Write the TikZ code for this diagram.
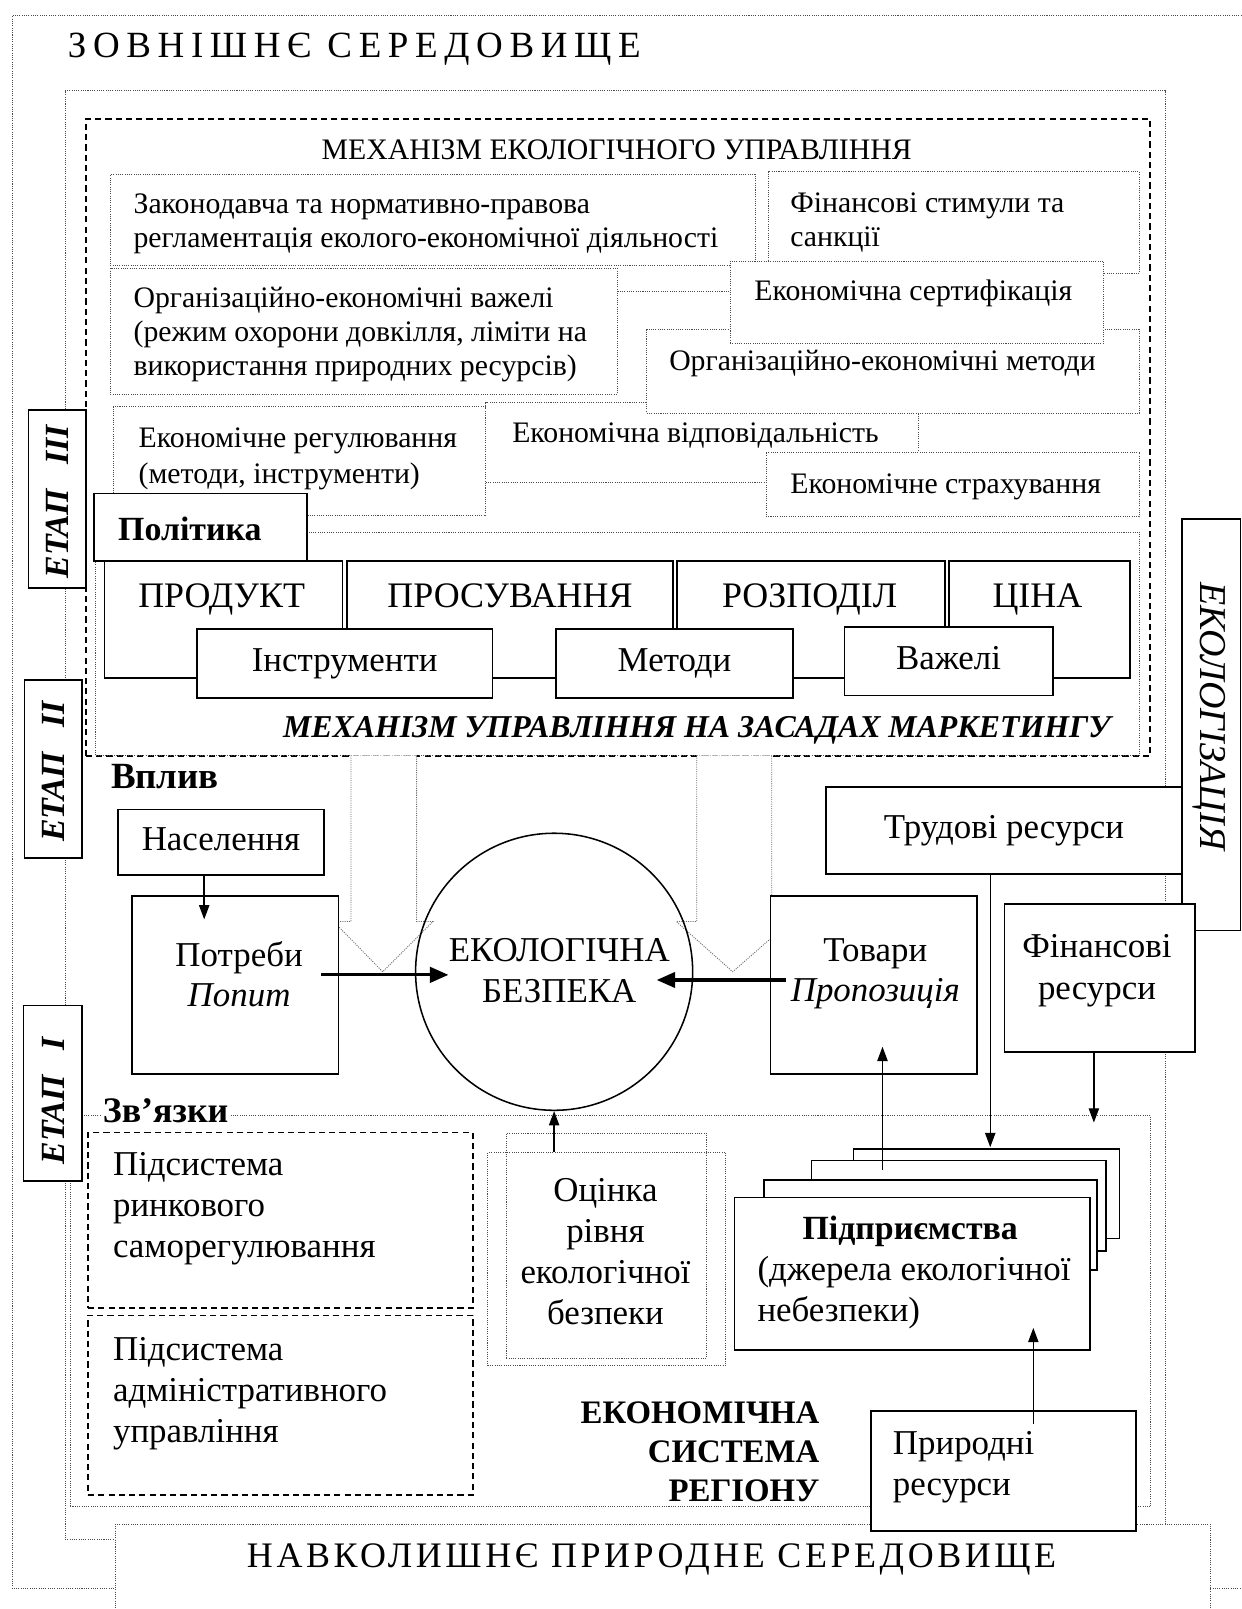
\documentclass[tikz,border=0pt]{standalone}
\usepackage{fontspec}
\setmainfont{Liberation Serif}
\usetikzlibrary{arrows.meta}
\newcommand\fsz[2]{\fontsize{#1}{#2}\selectfont}
\tikzset{
  dotln/.style={draw=black!70, line width=0.9pt, dash pattern=on 1pt off 1.2pt},
  dotbox/.style={dotln, fill=white, inner sep=0pt},
  solidbox/.style={draw, line width=1.7pt, fill=white, inner sep=0pt, text height=24pt, text depth=8pt},
  dashbox/.style={draw, line width=1.5pt, dash pattern=on 6pt off 4pt, inner sep=0pt},
  bx/.style n args={4}{anchor=north west, at={(#1,#2)}, minimum width={#3-#1}, minimum height={#4-#2}},
  txt/.style={inner sep=0pt, align=left},
  arr/.style={-{Triangle[length=14pt,width=10pt]}, line width=1.4pt},
  thickarr/.style={-{Triangle[length=18pt,width=15pt]}, line width=3pt},
  bigarr/.style={draw=black!60, line width=0.8pt, dash pattern=on 1pt off 1.2pt},
  etap/.style={rotate=90, font=\bfseries\itshape\fsz{33}{38}},
}
\begin{document}
\begin{tikzpicture}[x=1pt,y=-1pt,font=\fsz{34}{40}]
\useasboundingbox (0,0) rectangle (1210,1568);
% outer environment
\draw[dotln] (1210,15) -- (12,15) -- (12,1548) -- (1210,1548);
\node[txt,anchor=west,font=\fsz{36}{40}\addfontfeature{LetterSpace=18}] (tzovn) at (66,48) {ЗОВНІШНЄ СЕРЕДОВИЩЕ};
% inner environment and economic system
\node[dotln, inner sep=0pt, bx={63}{88}{1135}{1500}] (inner) {};
\node[dotln, inner sep=0pt, bx={68}{1087}{1121}{1468}] (econ) {};
% mechanism of ecological management
\node[dashbox, bx={83}{115}{1120}{736}] (mech) {};
\node[font=\fsz{29}{33}] (tmech) at (601,146) {МЕХАНІЗМ ЕКОЛОГІЧНОГО УПРАВЛІННЯ};
\node[dotbox, bx={473}{392}{895}{470}] (evid) {};
\node[dotbox, bx={107}{170}{736}{258}] (zak) {};
\node[dotbox, bx={748}{167}{1110}{266}] (fst) {};
\node[dotbox, bx={107}{261}{601}{384}] (ozv) {};
\node[dotbox, bx={110}{396}{473}{502}] (ereg) {};
\node[dotbox, bx={630}{321}{1110}{402}] (oem) {};
\node[dotbox, bx={711}{254}{1075}{334}] (sert) {};
\node[dotbox, bx={746}{440}{1110}{503}] (estr) {};
\path (sert.west) ++(0,-10) coordinate (cs);
\draw[dotln] (cs -| ozv.east) -- (cs);
\begin{scope}[font=\fsz{29}{33}]
\node[txt,anchor=west] (tzak) at (130,218) {Законодавча та нормативно-правова\\регламентація еколого-економічної діяльності};
\node[txt,anchor=west] (tfst) at (770,217) {Фінансові стимули та\\санкції};
\node[txt,anchor=west] (tozv) at (130,326) {Організаційно-економічні важелі\\(режим охорони довкілля, ліміти на\\використання природних ресурсів)};
\node[txt,anchor=west] (tsert) at (735,286) {Економічна сертифікація};
\node[txt,anchor=west] (toem) at (652,354) {Організаційно-економічні методи};
\node[txt,anchor=west,font=\fsz{29}{35}] (tereg) at (135,447) {Економічне регулювання\\(методи, інструменти)};
\node[txt,anchor=west] (tevid) at (499,424) {Економічна відповідальність};
\node[txt,anchor=west] (testr) at (770,474) {Економічне страхування};
\end{scope}
% marketing mechanism
\node[dotln, inner sep=0pt, bx={93}{518}{1110}{736}] (mkt) {};
\node[solidbox, bx={91}{480}{298}{546}] (pol) {};
\node[txt, anchor=west, font=\bfseries\fsz{33}{38}] (tpol) at (115,515) {Політика};
\node[solidbox, bx={101}{546}{333}{660}] (prod) {};
\node[solidbox, bx={337}{546}{655}{660}] (pros) {};
\node[solidbox, bx={659}{546}{920}{660}] (rozp) {};
\node[solidbox, bx={924}{546}{1100}{660}] (cina) {};
\begin{scope}[font=\fsz{35}{40}, anchor=base]
\node (tprod) at (216,592) {ПРОДУКТ};
\node (tpros) at (497,592) {ПРОСУВАННЯ};
\node (trozp) at (789,592) {РОЗПОДІЛ};
\node (tcina) at (1011,592) {ЦІНА};
\end{scope}
\node[solidbox, bx={191}{612}{479}{679}] (instr) {Інструменти};
\node[solidbox, bx={541}{612}{772}{679}] (metod) {Методи};
\node[solidbox, bx={822}{610}{1025}{677}] (vazh) {Важелі};
\node[font=\bfseries\itshape\fsz{31}{36}] (tmm) at (679,712) {МЕХАНІЗМ УПРАВЛІННЯ НА ЗАСАДАХ МАРКЕТИНГУ};
% stages
\node[solidbox, bx={27}{399}{83}{572}] (e3) {};
\node[etap] (te3) at (56,489) {ЕТАП\hspace{24pt}III};
\node[solidbox, bx={23}{662}{79}{835}] (e2) {};
\node[etap] (te2) at (52,752) {ЕТАП\hspace{24pt}II};
\node[solidbox, bx={22}{979}{79}{1150}] (e1) {};
\node[etap] (te1) at (52,1073) {ЕТАП\hspace{24pt}I};
% ecologization
\node[solidbox, bx={1151}{505}{1208}{906}] (ekz) {};
\node[rotate=-90, font=\itshape\fsz{37}{40}] (tekz) at (1178,698) {ЕКОЛОГІЗАЦІЯ};
% hollow arrows of influence
\draw[bigarr, fill=white] (342,736) -- (342,898) -- (325,898) -- (373,947) -- (422,898) -- (406,898) -- (406,736);
\draw[bigarr, fill=white] (679,736) -- (679,898) -- (659,898) -- (714,947) -- (770,898) -- (752,898) -- (752,736);
% middle part
\node[txt, anchor=west, font=\bfseries\fsz{36}{40}] (tvpl) at (108,757) {Вплив};
\node[solidbox, bx={114}{788}{315}{852}] (nas) {Населення};
\node[solidbox, bx={128}{872}{329}{1046}] (potr) {};
\node[align=center, font=\fsz{34}{39}] (tpotr) at (233,949) {Потреби\\\textit{Попит}};
\node[solidbox, bx={750}{872}{951}{1046}] (tov) {};
\node[align=center, font=\fsz{34}{39}] (ttov) at (853,949) {Товари\\\textit{Пропозиція}};
\node[solidbox, bx={804}{766}{1151}{851}] (trud) {Трудові ресурси};
\node[solidbox, bx={978}{880}{1164}{1024}] (fin) {};
\node[align=center, font=\fsz{34}{41}] (tfin) at (1069,946) {Фінансові\\ресурси};
\node[draw, circle, line width=1.5pt, minimum size=270pt, inner sep=0pt] (circ) at (540,947) {};
\node[align=center, font=\fsz{34}{40}] (tcirc) at (545,946) {ЕКОЛОГІЧНА\\БЕЗПЕКА};
% lower part
\node[txt, anchor=west, fill=white, inner sep=2pt, font=\bfseries\fsz{35}{38}] (tzv) at (98,1082) {Зв’язки};
\node[dashbox, fill=white, bx={85}{1103}{460}{1274}] (ps1) {};
\node[txt, anchor=west] (tps1) at (110,1178) {Підсистема\\ринкового\\саморегулювання};
\node[dashbox, fill=white, bx={85}{1281}{460}{1456}] (ps2) {};
\node[txt, anchor=west] (tps2) at (110,1358) {Підсистема\\адміністративного\\управління};
\node[dotln, inner sep=0pt, bx={493}{1104}{688}{1323}] (oca) {};
\node[dotln, inner sep=0pt, bx={475}{1123}{707}{1330}] (ocb) {};
\node[align=center] (toc) at (590,1220) {Оцінка\\рівня\\екологічної\\безпеки};
\node[solidbox, bx={831}{1119}{1090}{1206}] (ent4) {};
\node[solidbox, bx={790}{1130}{1077}{1218}] (ent3) {};
\node[solidbox, bx={744}{1149}{1068}{1237}] (ent2) {};
\node[solidbox, bx={715}{1166}{1061}{1315}] (ent1) {};
\node[font=\bfseries\fsz{33}{38}] (tent1) at (887,1200) {Підприємства};
\node[txt, anchor=west] (tent2) at (738,1260) {(джерела екологічної\\небезпеки)};
\node[align=right, anchor=east, font=\bfseries\fsz{32}{38}] (tesr) at (802,1415) {ЕКОНОМІЧНА\\СИСТЕМА\\РЕГІОНУ};
% natural environment
\node[dotbox, bx={112}{1485}{1179}{1580}] (nav) {};
\node[font=\fsz{35}{40}\addfontfeature{LetterSpace=10}] (tnav) at (635,1520) {НАВКОЛИШНЄ ПРИРОДНЕ СЕРЕДОВИЩЕ};
\node[solidbox, bx={848}{1374}{1106}{1491}] (prir) {};
\node[txt, anchor=west] (tprir) at (870,1430) {Природні\\ресурси};
% arrows
\coordinate (n1) at (199,896);
\draw[arr] (nas.south -| n1) -- (n1);
\coordinate (p1) at (313,950);
\coordinate (p2) at (437,950);
\draw[thickarr] (p1) -- (p2);
\coordinate (q1) at (766,955);
\coordinate (q2) at (640,955);
\draw[thickarr] (q1) -- (q2);
\coordinate (t1) at (965,1118);
\draw[arr] (trud.south -| t1) -- (t1);
\coordinate (f1) at (1066,1094);
\draw[arr] (fin.south -| f1) -- (f1);
\coordinate (g1) at (860,1140);
\coordinate (g2) at (860,1020);
\draw[arr] (g1) -- (g2);
\coordinate (r1) at (1007,1388);
\coordinate (r2) at (1007,1294);
\draw[arr] (r1) -- (r2);
\draw[arr] (circ.south |- ocb.north) -- (circ.south);
\end{tikzpicture}
\end{document}
